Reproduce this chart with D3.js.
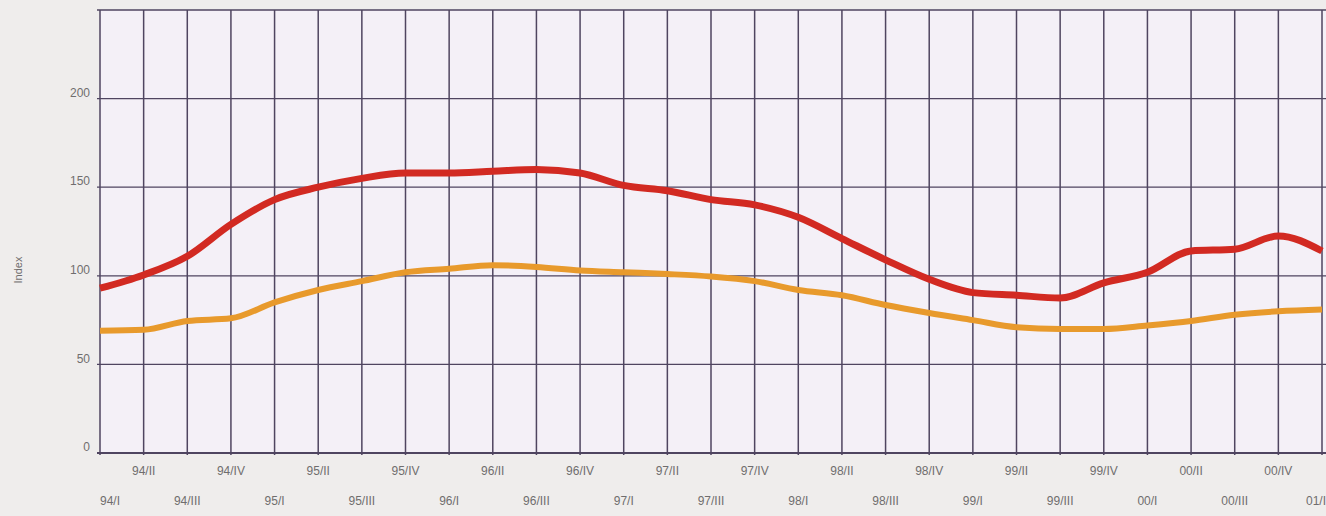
<!DOCTYPE html>
<html>
<head>
<meta charset="utf-8">
<script src="https://cdn.jsdelivr.net/npm/d3@7"></script>
<style>
  html, body { margin: 0; padding: 0; background: #efedec; }
  svg { display: block; }
</style>
</head>
<body>
<svg id="chart" width="1326" height="516"></svg>
<script>
const quarters = ["94/I","94/II","94/III","94/IV","95/I","95/II","95/III","95/IV",
  "96/I","96/II","96/III","96/IV","97/I","97/II","97/III","97/IV",
  "98/I","98/II","98/III","98/IV","99/I","99/II","99/III","99/IV",
  "00/I","00/II","00/III","00/IV","01/I"];
const redSeries = [93,100.5,111,129,143,150,155,158,158,159,
  160,158,151,148,143,140,133,121,109,
  98,90.5,89,87.5,96,102,114,115,122.5,114];
const orangeSeries = [69,69.5,74.5,76,85,92,97,102,104,106,
  105,103,102,101,99.6,97,92,89,83.5,
  79,75,71,70,70,72,74.5,78,80,81];
const yTicks = [0,50,100,150,200];
const yTitle = "Index";

(function () {
const svg = d3.select("#chart");
const mLeft = 100, mRight = 1322, mTop = 10, mBottom = 453;
const x = d3.scaleLinear().domain([0, quarters.length - 1]).range([mLeft, mRight]);
const y = d3.scaleLinear().domain([0, 250]).range([mBottom, mTop]);

// plot background
svg.append("rect").attr("x", mLeft).attr("y", mTop)
  .attr("width", 1326 - mLeft).attr("height", mBottom - mTop)
  .attr("fill", "#f4f0f7");

const gridColor = "#4f4560";
// horizontal grid
svg.append("g").selectAll("line").data(yTicks.concat([250])).join("line")
  .attr("x1", mLeft - 3).attr("x2", 1326)
  .attr("y1", d => y(d)).attr("y2", d => y(d))
  .attr("stroke", gridColor).attr("stroke-width", d => d === 0 ? 1.8 : 1.3);
// vertical grid
svg.append("g").selectAll("line").data(quarters).join("line")
  .attr("x1", (d, i) => x(i)).attr("x2", (d, i) => x(i))
  .attr("y1", mTop).attr("y2", mBottom + 2)
  .attr("stroke", gridColor).attr("stroke-width", 1.5);

// y tick labels
svg.append("g").selectAll("text").data(yTicks).join("text")
  .attr("x", 90).attr("y", d => y(d) - 6)
  .attr("dy", "0.35em").attr("text-anchor", "end")
  .attr("font-family", "Liberation Sans, Arial, sans-serif")
  .attr("font-size", 12).attr("fill", "#6f6d6e")
  .text(d => d);

// y title
svg.append("text")
  .attr("transform", "translate(22,270) rotate(-90)")
  .attr("text-anchor", "middle")
  .attr("font-family", "Liberation Sans, Arial, sans-serif")
  .attr("font-size", 11).attr("fill", "#6f6d6e")
  .text(yTitle);

// x labels (two staggered rows)
const last = quarters.length - 1;
svg.append("g").selectAll("text").data(quarters).join("text")
  .attr("x", (d, i) => i === 0 ? x(i) : (i === last ? 1326 : x(i)))
  .attr("y", (d, i) => i % 2 === 1 ? 475 : 505)
  .attr("text-anchor", (d, i) => i === 0 ? "start" : (i === last ? "end" : "middle"))
  .attr("font-family", "Liberation Sans, Arial, sans-serif")
  .attr("font-size", 12).attr("fill", "#6f6d6e")
  .text(d => d);

const line = d3.line().x((d, i) => x(i)).y(d => y(d)).curve(d3.curveMonotoneX);

svg.append("path").datum(orangeSeries)
  .attr("d", line).attr("fill", "none")
  .attr("stroke", "#e89a2c").attr("stroke-width", 6).attr("stroke-linejoin", "round");
svg.append("path").datum(redSeries)
  .attr("d", line).attr("fill", "none")
  .attr("stroke", "#d22a22").attr("stroke-width", 7).attr("stroke-linejoin", "round");
})();
</script>
</body>
</html>
